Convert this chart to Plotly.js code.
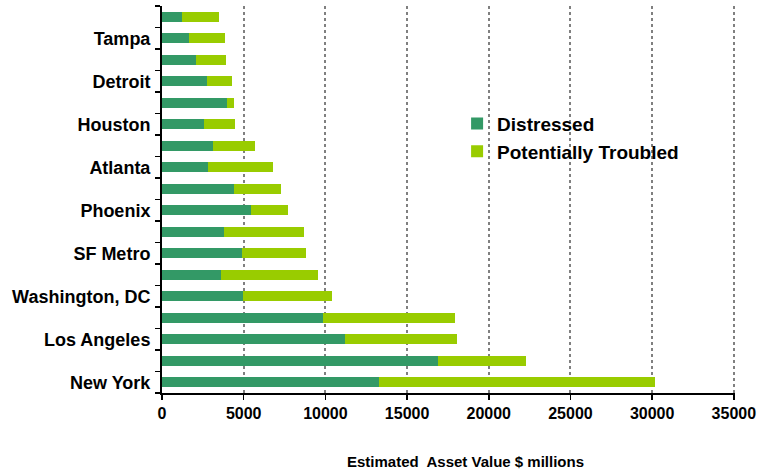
<!DOCTYPE html>
<html>
<head>
<meta charset="utf-8">
<script src="https://cdn.plot.ly/plotly-3.0.1.min.js"></script>
<style>html,body{margin:0;padding:0;background:#fff;}#chart{width:758px;height:471px;}</style>
</head>
<body>
<div id="chart"></div>
<script>
// Categories from bottom to top
const cities = ["New York", "Chicago", "Los Angeles", "Las Vegas", "Washington, DC", "Dallas",
  "SF Metro", "Orlando", "Phoenix", "Miami", "Atlanta", "Seattle", "Houston", "San Diego",
  "Detroit", "Boston", "Tampa", "Denver"];
const labeledCities = ["New York", "Los Angeles", "Washington, DC", "SF Metro", "Phoenix",
  "Atlanta", "Houston", "Detroit", "Tampa"];
const distressed = [13280, 16890, 11200, 9850, 4960, 3610, 4900, 3790, 5450, 4410,
  2820, 3120, 2570, 3980, 2750, 2080, 1650, 1220];
const troubled = [16890, 5380, 6850, 8080, 5440, 5940, 3910, 4900, 2260, 2870,
  3970, 2570, 1900, 430, 1530, 1840, 2200, 2270];
const xTicks = [0, 5000, 10000, 15000, 20000, 25000, 30000, 35000];

const font = "Arial, 'Liberation Sans', sans-serif";
const tickText = cities.map(c => labeledCities.includes(c) ? c : "");

const traces = [
  {type: "bar", orientation: "h", name: "Distressed", y: cities, x: distressed,
   marker: {color: "#339966"}},
  {type: "bar", orientation: "h", name: "Potentially Troubled", y: cities, x: troubled,
   marker: {color: "#99CC00"}}
];

const layout = {
  width: 758, height: 471,
  margin: {l: 162, r: 23, t: 6, b: 78},
  paper_bgcolor: "#fff", plot_bgcolor: "#fff",
  barmode: "stack", bargap: 0.52,
  showlegend: true,
  legend: {x: 0.515, y: 0.745, xanchor: "left", yanchor: "top", bgcolor: "rgba(0,0,0,0)",
    font: {family: font, size: 19, color: "#000", weight: "bold"},
    traceorder: "normal", itemwidth: 30},
  xaxis: {range: [0, 35070], tickvals: xTicks, ticktext: xTicks.map(String),
    showgrid: true, gridcolor: "#808080", griddash: "dot", gridwidth: 2,
    zeroline: false, showline: true, linecolor: "#000", linewidth: 2,
    ticks: "outside", ticklen: 5, tickcolor: "#000", tickwidth: 1.5,
    tickfont: {family: font, size: 16, color: "#000", weight: "bold"}},
  yaxis: {type: "category", categoryorder: "array", categoryarray: cities,
    tickvals: cities, ticktext: tickText, tickson: "boundaries",
    showgrid: false, zeroline: false, showline: true, linecolor: "#000", linewidth: 2,
    ticks: "outside", ticklen: 5, tickcolor: "#000", tickwidth: 1.5, ticklabelstandoff: 6,
    tickfont: {family: font, size: 18, color: "#000", weight: "bold"}},
  annotations: [{text: "Estimated  Asset Value $ millions", xref: "paper", yref: "paper",
    x: 0.53, y: -0.176, xanchor: "center", yanchor: "middle", showarrow: false,
    font: {family: font, size: 15, color: "#000", weight: "bold"}}]
};

Plotly.newPlot("chart", traces, layout, {displayModeBar: false, staticPlot: true});
</script>
</body>
</html>
